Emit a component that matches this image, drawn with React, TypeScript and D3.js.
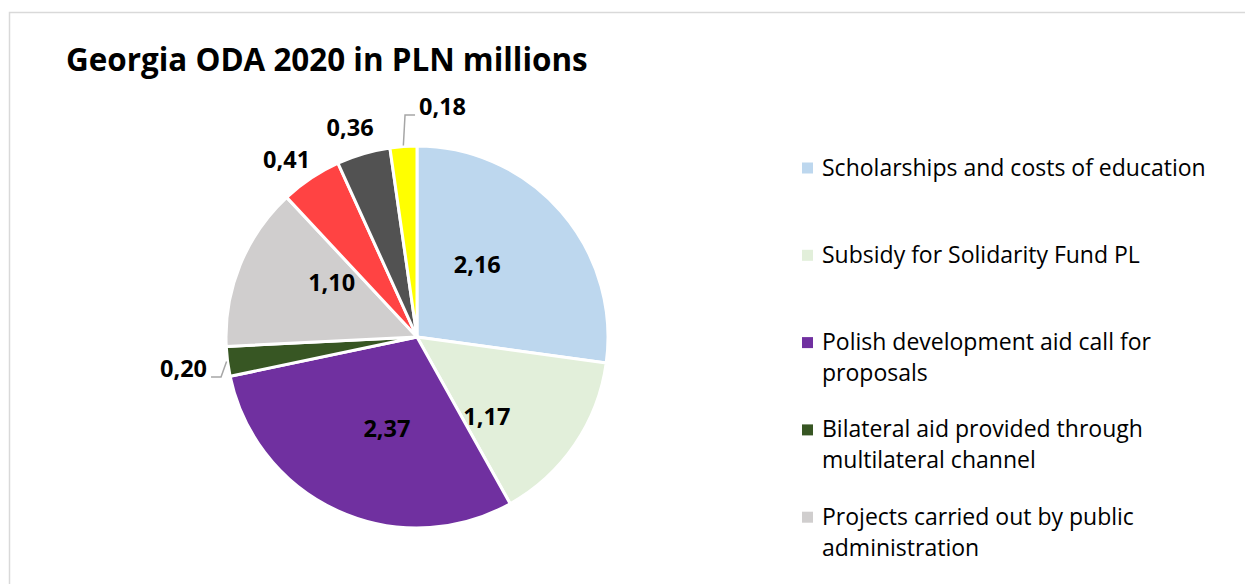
import { useEffect, useRef } from 'react';
import * as d3 from 'd3';

// data (PLN millions)
const categories = [
  'Scholarships and costs of education',
  'Subsidy for Solidarity Fund PL',
  'Polish development aid call for proposals',
  'Bilateral aid provided through multilateral channel',
  'Projects carried out by public administration',
  'Humanitarian aid',
  'Polish Aid Volunteering Programme',
  'Other',
];
const values = [2.16, 1.17, 2.37, 0.2, 1.1, 0.41, 0.36, 0.18];
const colors = [
  '#BDD7EE',
  '#E2EFDA',
  '#7030A0',
  '#375623',
  '#D0CECE',
  '#FF4343',
  '#525252',
  '#FFFF00',
];

// Excel "best fit" label spots: mode, angle nudge (deg) from mid angle, distance as share of radius
const labelPlacement = [
  { mode: 'in', nudge: -9, k: 0.492 },
  { mode: 'in', nudge: 14.5, k: 0.555 },
  { mode: 'in', nudge: -6.2, k: 0.503 },
  { mode: 'leader', nudge: -3.4, k: 1.119 },
  { mode: 'in', nudge: 10.3, k: 0.529 },
  { mode: 'out', nudge: -2.6, k: 1.152 },
  { mode: 'out', nudge: -1.4, k: 1.152 },
  { mode: 'leader', nudge: 4.6, k: 1.162 },
];

const plFormat = d3.formatLocale({
  decimal: ',',
  thousands: ' ',
  grouping: [3],
  currency: ['', ''],
}).format('.2f');

const render = (node, custom) => {
  const svg = d3.select(node);
  svg.selectAll('*').remove();
  const { cx, cy, r } = custom;
  const font = '"Open Sans", sans-serif';

  // frame
  svg
    .append('rect')
    .attr('x', 9.5)
    .attr('y', 12.5)
    .attr('width', custom.width + 20)
    .attr('height', custom.height + 20)
    .attr('fill', '#fff')
    .attr('stroke', '#d9d9d9')
    .attr('stroke-width', 1.5);

  svg
    .append('text')
    .attr('x', 66)
    .attr('y', 71)
    .attr('font-family', font)
    .attr('font-weight', 700)
    .attr('font-size', 31.4)
    .attr('fill', '#000')
    .text('Georgia ODA 2020 in PLN millions');

  const pie = d3.pie().sort(null).value((d) => d);
  const arcs = pie(values);
  const arc = d3.arc().innerRadius(0).outerRadius(r);
  const polar = (a, d) => [cx + d * Math.sin(a), cy - d * Math.cos(a)];

  const g = svg.append('g').attr('transform', `translate(${cx},${cy})`);
  g.selectAll('path')
    .data(arcs)
    .enter()
    .append('path')
    .attr('d', arc)
    .attr('fill', (d, i) => colors[i])
    .attr('stroke', '#fff')
    .attr('stroke-width', 3)
    .attr('stroke-linejoin', 'round');

  // data labels
  arcs.forEach((d, i) => {
    const p = labelPlacement[i];
    const mid = (d.startAngle + d.endAngle) / 2;
    const a = mid + (p.nudge * Math.PI) / 180;
    const [x, y] = polar(a, p.k * r);
    const label = svg
      .append('text')
      .attr('font-family', font)
      .attr('font-weight', 700)
      .attr('font-size', 23.5)
      .attr('fill', '#000')
      .text(plFormat(d.value));

    if (p.mode !== 'leader') {
      label
        .attr('x', x)
        .attr('y', y)
        .attr('dy', '0.36em')
        .attr('text-anchor', 'middle');
      return;
    }
    // leader line: from slice edge to an elbow, then along the label baseline
    const left = x < cx;
    const side = left ? 1 : -1;
    const edge = polar(mid, r + 1);
    const pts = [edge, [x + side * 14, y], [x + side * 4, y]];
    svg
      .append('path')
      .attr('d', d3.line()(pts))
      .attr('fill', 'none')
      .attr('stroke', '#a6a6a6')
      .attr('stroke-width', 1.5);
    label
      .attr('x', x)
      .attr('y', y)
      .attr('text-anchor', left ? 'end' : 'start');
  });

  // legend
  const legendY = d3
    .scalePoint()
    .domain(categories)
    .range([168, 168 + 87.3 * (categories.length - 1)]);
  const items = svg
    .selectAll('g.legend')
    .data(categories.filter((c) => legendY(c) < custom.height - 20))
    .enter()
    .append('g')
    .attr('class', 'legend')
    .attr('transform', (c) => `translate(802,${legendY(c)})`);
  items
    .append('rect')
    .attr('x', 0)
    .attr('y', -5.5)
    .attr('width', 11)
    .attr('height', 11)
    .attr('fill', (c) => colors[categories.indexOf(c)]);
  items
    .append('text')
    .attr('x', 20)
    .attr('y', 7.5)
    .attr('font-family', font)
    .attr('font-size', 23)
    .attr('fill', '#000')
    .each(function (c) {
      // wrap to the legend width
      const t = d3.select(this);
      const words = c.split(' ');
      let line = [];
      let tspan = t.append('tspan').attr('x', 20).attr('dy', 0);
      words.forEach((w) => {
        line.push(w);
        tspan.text(line.join(' '));
        if (tspan.node().getComputedTextLength() > custom.legendWidth && line.length > 1) {
          line.pop();
          tspan.text(line.join(' '));
          line = [w];
          tspan = t.append('tspan').attr('x', 20).attr('dy', 31).text(w);
        }
      });
    });
};

export default function App() {
  const ref = useRef(null);
  const width = 1245;
  const height = 584;

  useEffect(() => {
    render(ref.current, { width, height, cx: 417, cy: 337, r: 191, legendWidth: 400 });
  }, []);

  return (
    <svg
      ref={ref}
      width={width}
      height={height}
      style={{ position: 'absolute', left: 0, top: 0, background: '#fff' }}
    ></svg>
  );
}
